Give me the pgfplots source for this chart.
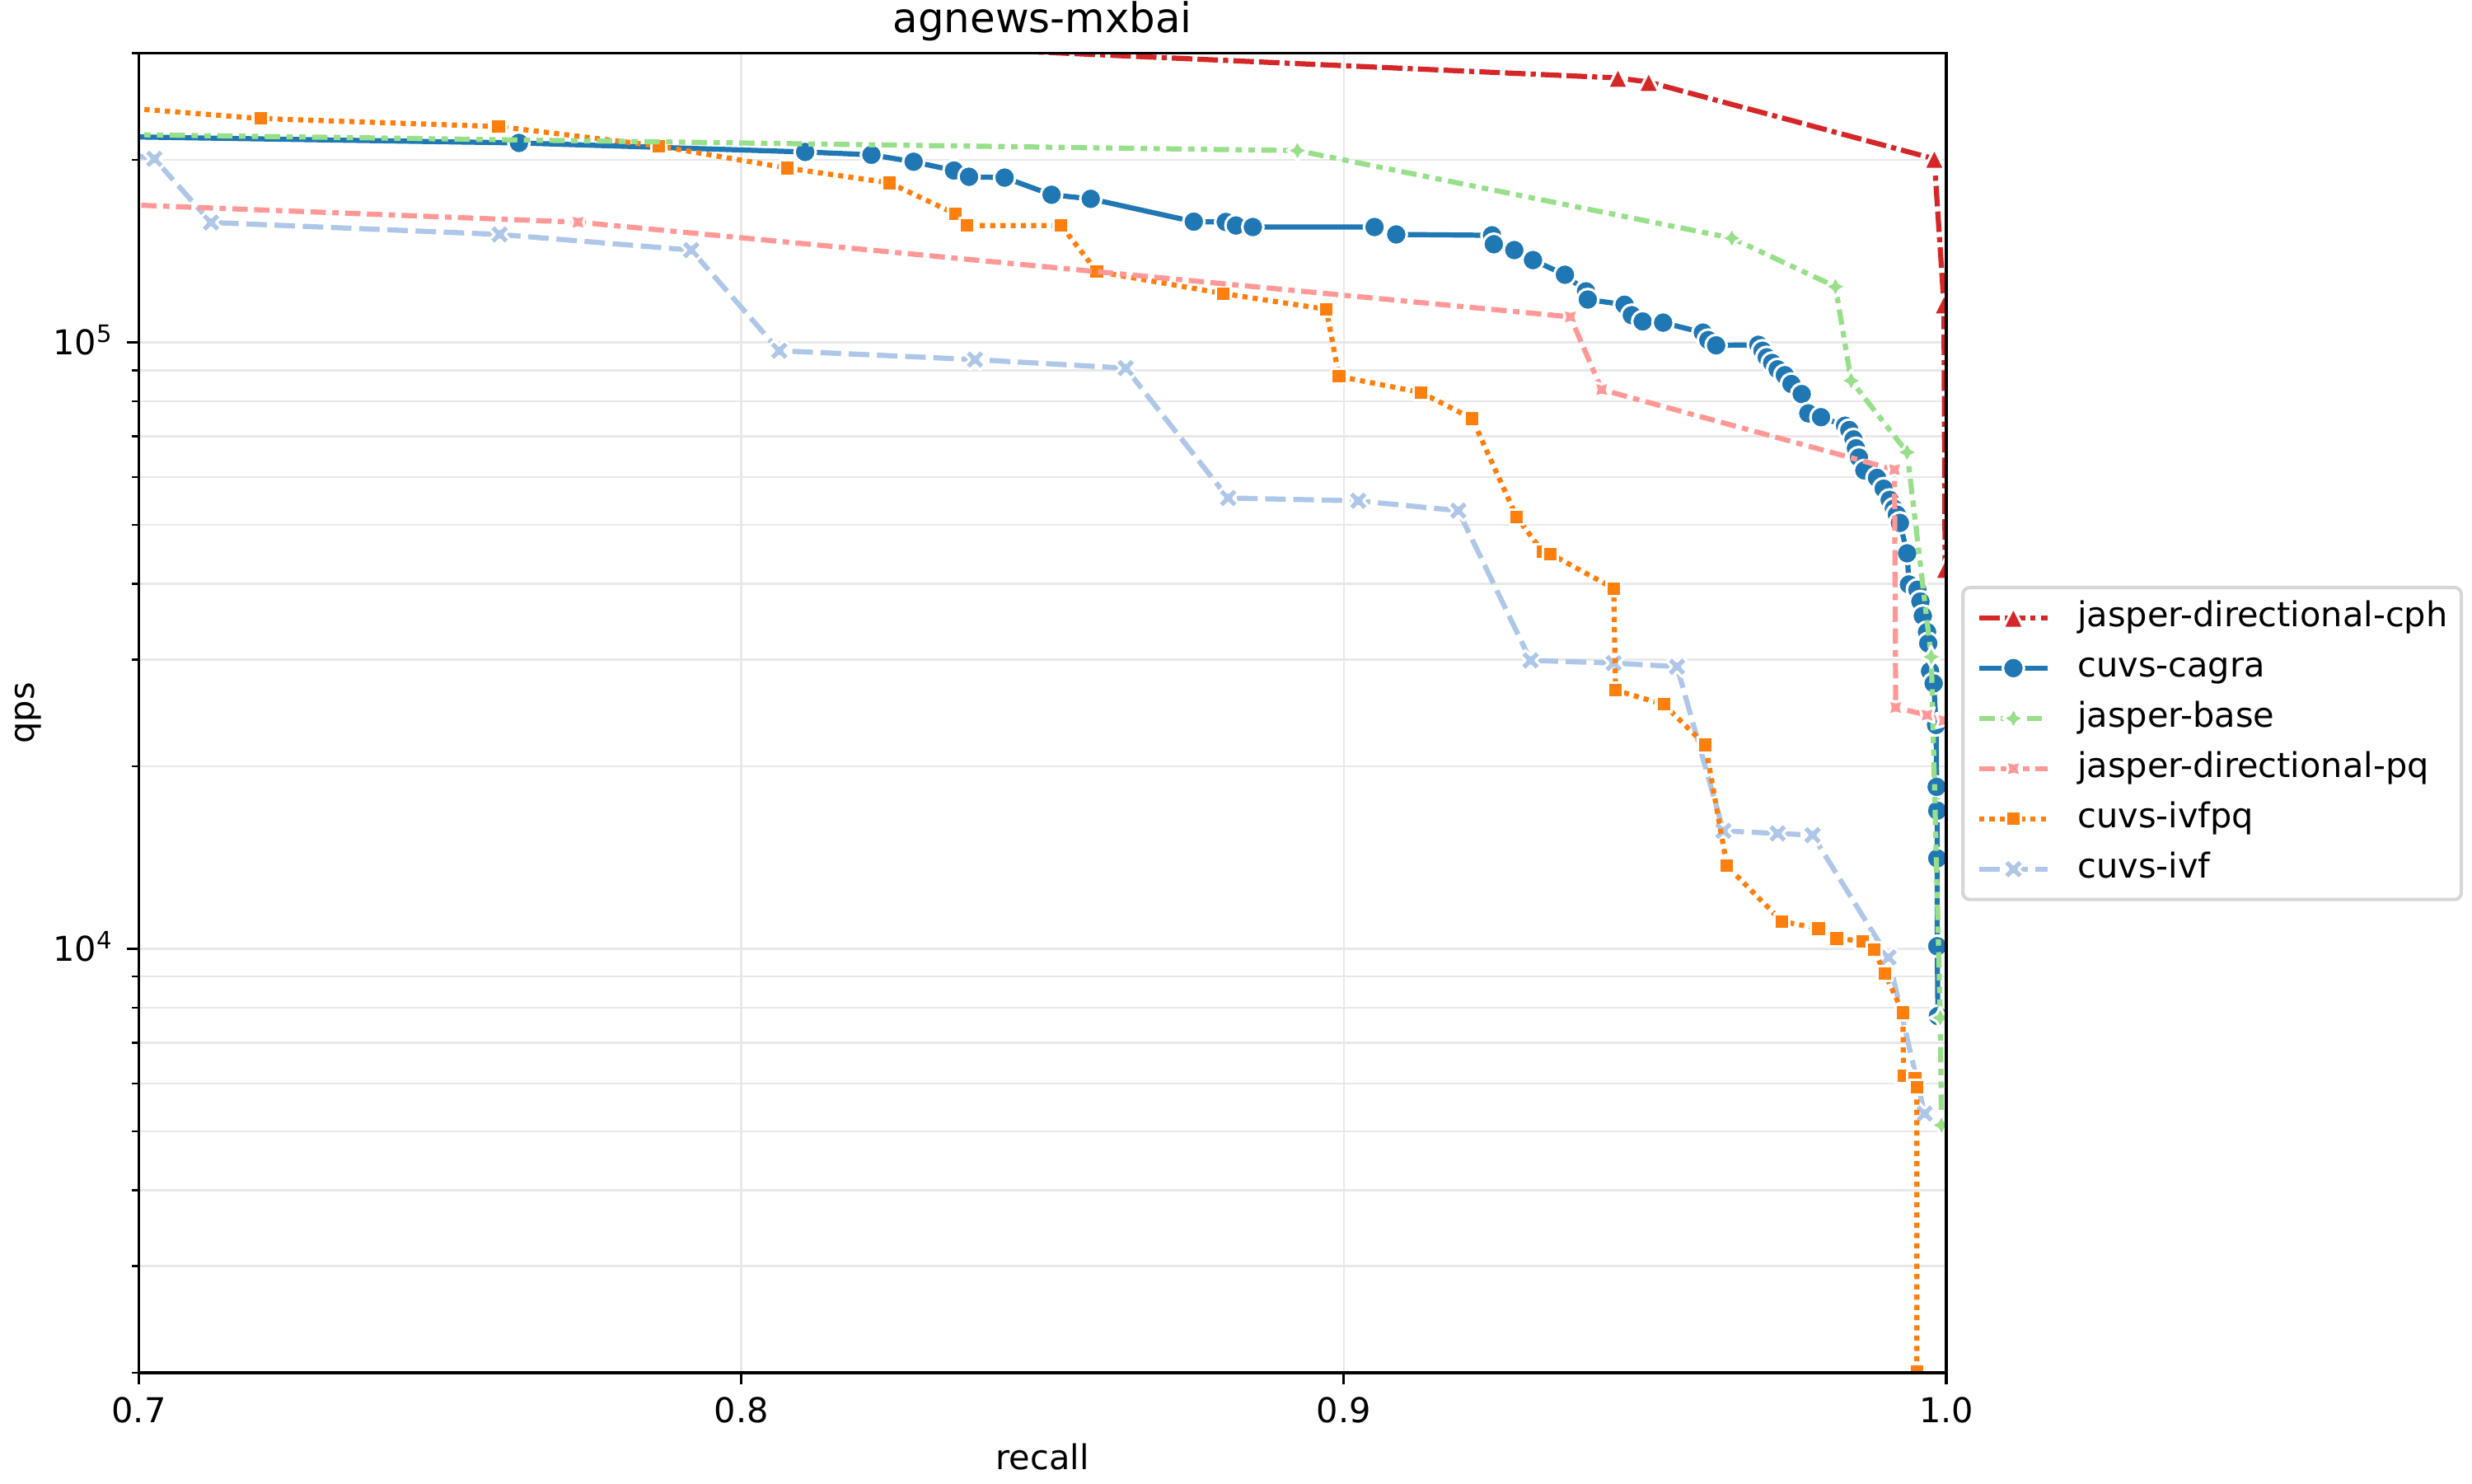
\documentclass[border=0pt]{standalone}
\usepackage{fontspec}
\setmainfont{DejaVu Sans}
\usepackage{pgfplots}
\pgfplotsset{compat=1.18}

\definecolor{cblue}{RGB}{31,119,180}
\definecolor{clblue}{RGB}{174,199,232}
\definecolor{corange}{RGB}{255,127,14}
\definecolor{cgreen}{RGB}{152,223,138}
\definecolor{cred}{RGB}{214,39,40}
\definecolor{cpink}{RGB}{255,152,150}
\definecolor{gridc}{RGB}{232,232,232}
\definecolor{legc}{RGB}{214,214,214}

\pgfdeclareplotmark{mtri}{%
  \pgfpathmoveto{\pgfqpoint{0pt}{\pgfplotmarksize}}%
  \pgfpathlineto{\pgfqpoint{-\pgfplotmarksize}{-\pgfplotmarksize}}%
  \pgfpathlineto{\pgfqpoint{\pgfplotmarksize}{-\pgfplotmarksize}}%
  \pgfpathclose
  \pgfusepathqfillstroke}
\pgfdeclareplotmark{mstar}{%
  \pgfpathmoveto{\pgfqpoint{0pt}{\pgfplotmarksize}}%
  \pgfpathlineto{\pgfqpoint{0.35355\pgfplotmarksize}{0.35355\pgfplotmarksize}}%
  \pgfpathlineto{\pgfqpoint{\pgfplotmarksize}{0pt}}%
  \pgfpathlineto{\pgfqpoint{0.35355\pgfplotmarksize}{-0.35355\pgfplotmarksize}}%
  \pgfpathlineto{\pgfqpoint{0pt}{-\pgfplotmarksize}}%
  \pgfpathlineto{\pgfqpoint{-0.35355\pgfplotmarksize}{-0.35355\pgfplotmarksize}}%
  \pgfpathlineto{\pgfqpoint{-\pgfplotmarksize}{0pt}}%
  \pgfpathlineto{\pgfqpoint{-0.35355\pgfplotmarksize}{0.35355\pgfplotmarksize}}%
  \pgfpathclose
  \pgfusepathqfillstroke}
\pgfdeclareplotmark{mstarx}{%
  \pgfpathmoveto{\pgfqpoint{0.70711\pgfplotmarksize}{0.70711\pgfplotmarksize}}%
  \pgfpathlineto{\pgfqpoint{0.5\pgfplotmarksize}{0pt}}%
  \pgfpathlineto{\pgfqpoint{0.70711\pgfplotmarksize}{-0.70711\pgfplotmarksize}}%
  \pgfpathlineto{\pgfqpoint{0pt}{-0.5\pgfplotmarksize}}%
  \pgfpathlineto{\pgfqpoint{-0.70711\pgfplotmarksize}{-0.70711\pgfplotmarksize}}%
  \pgfpathlineto{\pgfqpoint{-0.5\pgfplotmarksize}{0pt}}%
  \pgfpathlineto{\pgfqpoint{-0.70711\pgfplotmarksize}{0.70711\pgfplotmarksize}}%
  \pgfpathlineto{\pgfqpoint{0pt}{0.5\pgfplotmarksize}}%
  \pgfpathclose
  \pgfusepathqfillstroke}
\pgfdeclareplotmark{mX}{%
  \pgfpathmoveto{\pgfqpoint{-0.5\pgfplotmarksize}{-\pgfplotmarksize}}%
  \pgfpathlineto{\pgfqpoint{0pt}{-0.5\pgfplotmarksize}}%
  \pgfpathlineto{\pgfqpoint{0.5\pgfplotmarksize}{-\pgfplotmarksize}}%
  \pgfpathlineto{\pgfqpoint{\pgfplotmarksize}{-0.5\pgfplotmarksize}}%
  \pgfpathlineto{\pgfqpoint{0.5\pgfplotmarksize}{0pt}}%
  \pgfpathlineto{\pgfqpoint{\pgfplotmarksize}{0.5\pgfplotmarksize}}%
  \pgfpathlineto{\pgfqpoint{0.5\pgfplotmarksize}{\pgfplotmarksize}}%
  \pgfpathlineto{\pgfqpoint{0pt}{0.5\pgfplotmarksize}}%
  \pgfpathlineto{\pgfqpoint{-0.5\pgfplotmarksize}{\pgfplotmarksize}}%
  \pgfpathlineto{\pgfqpoint{-\pgfplotmarksize}{0.5\pgfplotmarksize}}%
  \pgfpathlineto{\pgfqpoint{-0.5\pgfplotmarksize}{0pt}}%
  \pgfpathlineto{\pgfqpoint{-\pgfplotmarksize}{-0.5\pgfplotmarksize}}%
  \pgfpathclose
  \pgfusepathqfillstroke}

\pgfplotsset{
  s cagra/.style={cblue, solid, line width=1.5pt, line join=round, mark=*, mark size=3.1pt,
    mark options={solid, fill=cblue, draw=white, line width=0.75pt}},
  s ivf/.style={clblue, line width=1.5pt, line join=round, dash pattern=on 6pt off 2.25pt,
    mark=mX, mark size=3pt, mark options={solid, fill=clblue, draw=white, line width=0.75pt}},
  s ivfpq/.style={corange, line width=1.5pt, line join=round, dash pattern=on 1.5pt off 1.5pt,
    mark=square*, mark size=2.2pt, mark options={solid, fill=corange, draw=white, line width=0.75pt}},
  s base/.style={cgreen, line width=1.5pt, line join=round,
    dash pattern=on 4.5pt off 1.875pt on 1.875pt off 1.875pt on 1.875pt off 1.875pt,
    mark=mstar, mark size=3.1pt, mark options={solid, fill=cgreen, draw=white, line width=0.75pt}},
  s cph/.style={cred, line width=1.5pt, line join=round,
    dash pattern=on 6pt off 1.5pt on 6pt off 1.5pt on 1.5pt off 1.5pt,
    mark=mtri, mark size=3pt, mark options={solid, fill=cred, draw=white, line width=0.75pt}},
  s pq/.style={cpink, line width=1.5pt, line join=round,
    dash pattern=on 4.5pt off 1.875pt on 4.5pt off 1.875pt on 1.875pt off 1.875pt,
    mark=mstarx, mark size=3.1pt, mark options={solid, fill=cpink, draw=white, line width=0.75pt}},
}

\begin{document}
\begin{tikzpicture}
\path[use as bounding box] (-40.57pt,-32.28pt) rectangle (682.13pt,401.34pt);
\begin{axis}[
  at={(0pt,0pt)}, anchor=south west,
  scale only axis, width=528.44pt, height=385.8pt,
  xmin=0.7, xmax=1.0, ymode=log, ymin=2000, ymax=300000,
  clip marker paths=true,
  xtick={0.7,0.8,0.9,1.0},
  xticklabels={0.7,0.8,0.9,1.0},
  ytick={10000,100000},
  yticklabels={10\textsuperscript{4},10\textsuperscript{5}},
  minor ytick={2000,3000,4000,5000,6000,7000,8000,9000,20000,30000,40000,50000,60000,70000,80000,90000,200000,300000},
  tick pos=left, tick align=outside,
  major tick length=3.5pt, minor tick length=2pt,
  major tick style={black, line width=0.8pt},
  minor tick style={black, line width=0.6pt},
  axis line style={black, line width=0.8pt},
  grid=both,
  major grid style={gridc, line width=0.6pt},
  minor grid style={gridc, line width=0.6pt},
  tick label style={font=\fontsize{10}{12}\selectfont, inner sep=0pt},
  xticklabel style={anchor=base, yshift=-11.2pt},
  yticklabel style={anchor=base east, xshift=-3.7pt, yshift=-3.65pt},
  xlabel={recall},
  xlabel style={at={(axis description cs:0.5,-0.0731)}, anchor=base, inner sep=0pt, font=\fontsize{10}{12}\selectfont},
  ylabel={qps},
  ylabel style={at={(axis description cs:-0.05772,0.5)}, anchor=base, inner sep=0pt, font=\fontsize{10}{12}\selectfont},
  legend cell align=left,
  legend image code/.code={\draw[mark repeat=2, mark phase=2, #1] plot coordinates {(0pt,0pt) (10pt,0pt) (20pt,0pt)};},
  legend style={
    at={(axis description cs:1.00825,0.5963)}, anchor=north west,
    draw=legc, line width=1pt, fill=white, rounded corners=2pt,
    inner sep=4pt, row sep=5pt,
    font=\fontsize{10}{12}\selectfont,
    nodes={inner sep=0pt, text height=7.4pt, text depth=2.3pt},
    /tikz/every odd column/.append style={column sep=8pt},
  },
]
\addlegendimage{s cph}\addlegendentry{jasper-directional-cph}
\addlegendimage{s cagra}\addlegendentry{cuvs-cagra}
\addlegendimage{s base}\addlegendentry{jasper-base}
\addlegendimage{s pq}\addlegendentry{jasper-directional-pq}
\addlegendimage{s ivfpq}\addlegendentry{cuvs-ivfpq}
\addlegendimage{s ivf}\addlegendentry{cuvs-ivf}

% cuvs-cagra
\addplot[s cagra, forget plot] coordinates {
(0.65,222100) (0.7631,213300) (0.8106,206100) (0.8216,203900) (0.8286,198600)
(0.8353,192100) (0.8378,187600) (0.8437,187000) (0.8515,175200) (0.8580,172500)
(0.8751,158200) (0.8804,158000) (0.8821,155900) (0.8849,155000) (0.9051,155000)
(0.9087,150700) (0.9246,150200) (0.9249,145200) (0.9283,142000) (0.9314,136700)
(0.9367,129300) (0.9402,121400) (0.9405,117700) (0.9466,115400) (0.9478,110900)
(0.9496,108300) (0.9530,107800) (0.9596,103800) (0.9605,100900) (0.9618,98900)
(0.9688,99100) (0.9695,96900) (0.9702,94500) (0.9711,92500) (0.9720,90300)
(0.9732,88300) (0.9743,85400) (0.9760,82200) (0.9771,76400) (0.9792,75300)
(0.9832,72900) (0.9839,71700) (0.9846,69200) (0.9850,66900) (0.9855,64600)
(0.9864,61500) (0.9885,59800) (0.9896,57400) (0.9906,55000) (0.9913,53200)
(0.9918,52000) (0.9923,50400) (0.9935,44900) (0.9938,39900) (0.9952,39100)
(0.9957,37400) (0.9961,35400) (0.9968,33300) (0.9970,31900) (0.9973,28700)
(0.9979,27400) (0.9983,23400) (0.9984,18500) (0.9985,16900) (0.9985,14100)
(0.9985,10100) (0.9986,7750)
};
% cuvs-ivf
\addplot[s ivf, forget plot] coordinates {
(0.69,211000) (0.7026,200800) (0.7120,157700) (0.7599,150700) (0.7917,142000)
(0.8063,96900) (0.8388,93700) (0.8638,90700) (0.8808,55400) (0.9024,54800)
(0.9190,52800) (0.9310,29900) (0.9448,29600) (0.9553,29200) (0.9630,15650)
(0.9720,15500) (0.9778,15400) (0.9904,9680) (0.9964,5350)
};
% cuvs-ivfpq
\addplot[s ivfpq, forget plot] coordinates {
(0.65,265300) (0.7202,234000) (0.7597,227000) (0.7863,210800) (0.8076,193900)
(0.8246,183300) (0.8355,163000) (0.8375,155900) (0.8531,155900) (0.8590,130900)
(0.8800,120400) (0.8971,113400) (0.8992,87900) (0.9128,82700) (0.9213,74900)
(0.9287,51500) (0.9330,45200) (0.9343,44800) (0.9448,39300) (0.9451,26700)
(0.9531,25300) (0.9600,21700) (0.9636,13700) (0.9727,11100) (0.9788,10800)
(0.9818,10400) (0.9861,10300) (0.9880,9960) (0.9898,9100) (0.9928,7850)
(0.9929,6180) (0.9948,6120) (0.9951,5910) (0.9951,2010)
};
% jasper-base
\addplot[s base, forget plot] coordinates {
(0.65,223500) (0.8923,207200) (0.9644,148600) (0.9816,123600) (0.9842,86500)
(0.9935,65900) (0.9975,30300) (0.9990,7700) (0.9992,5120)
};
% jasper-directional-cph
\addplot[s cph, forget plot] coordinates {
(0.80,316800) (0.9455,273000) (0.9506,268800) (0.9980,200800) (0.9996,115500) (0.9998,42300)
};
% jasper-directional-pq
\addplot[s pq, forget plot] coordinates {
(0.65,176000) (0.7729,157900) (0.9376,110200) (0.9428,83600) (0.9914,61700)
(0.9916,25000) (0.9968,24300) (0.9996,23800)
};
\end{axis}
\draw[black, line width=0.8pt] (0pt,0pt) rectangle (528.44pt,385.8pt);
\node[anchor=base, inner sep=0pt, font=\fontsize{12}{14.4}\selectfont] at (264.22pt,391.8pt) {agnews-mxbai};
\end{tikzpicture}
\end{document}
